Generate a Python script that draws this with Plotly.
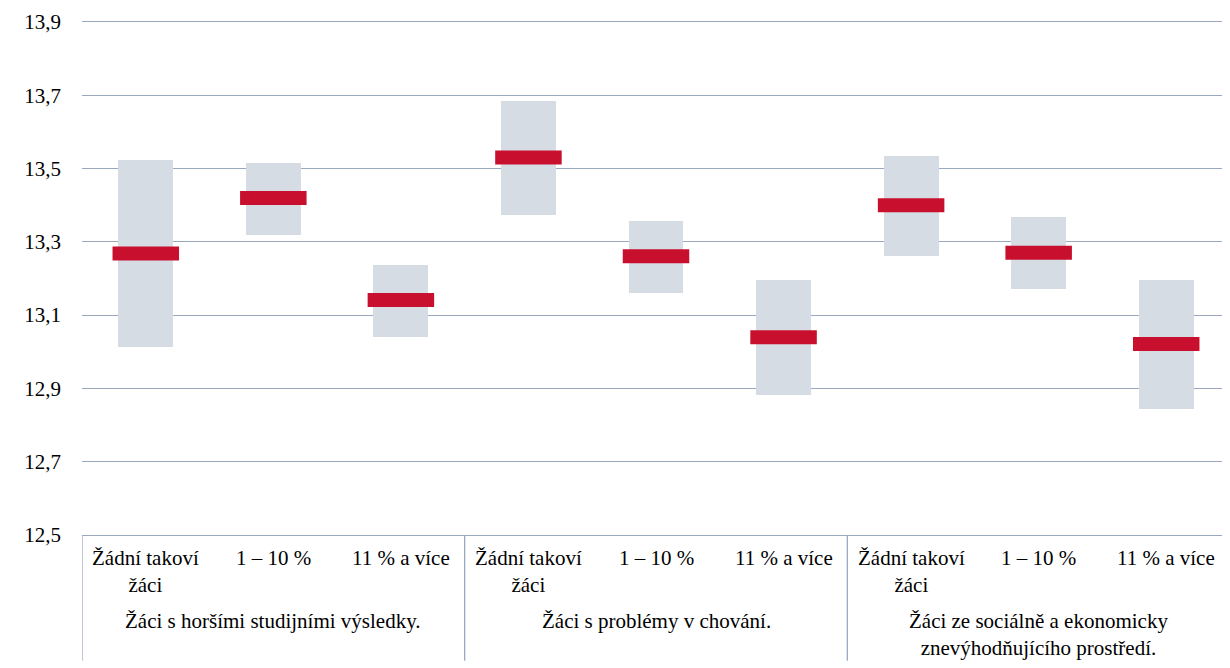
import plotly.graph_objects as go

categories = ["Žádní takoví<br>žáci", "1 – 10 %", "11 % a více"] * 3
groups = ["Žáci s horšími studijními výsledky.",
          "Žáci s problémy v chování.",
          "Žáci ze sociálně a ekonomicky<br>znevýhodňujícího prostředí."]
low = [13.013, 13.32, 13.04, 13.373, 13.16, 12.882, 13.261, 13.17, 12.844]
high = [13.523, 13.515, 13.237, 13.685, 13.357, 13.196, 13.534, 13.368, 13.196]
mean = [13.268, 13.42, 13.141, 13.53, 13.261, 13.04, 13.40, 13.27, 13.021]
yticks = [12.5, 12.7, 12.9, 13.1, 13.3, 13.5, 13.7, 13.9]

x = list(range(len(categories)))
grid = "#9aa8bf"
font = "Liberation Serif, Times New Roman, serif"
fs = 21

fig = go.Figure()
fig.add_trace(go.Bar(x=x, y=[h - l for h, l in zip(high, low)], base=low,
                     width=0.43, marker=dict(color="#d6dce4", line=dict(width=0)),
                     showlegend=False, hoverinfo="skip"))
fig.add_trace(go.Scatter(x=x, y=mean, mode="markers",
                         marker=dict(symbol="line-ew", size=47.5,
                                     line=dict(width=14, color="#c8102e")),
                         showlegend=False))

for i, c in enumerate(categories):
    fig.add_annotation(x=i, y=0, xref="x", yref="paper", yshift=-9,
                       text=c, showarrow=False, yanchor="top", align="center",
                       font=dict(family=font, size=fs, color="#000"))
for g, name in enumerate(groups):
    fig.add_annotation(x=3 * g + 1, y=0, xref="x", yref="paper", yshift=-72,
                       text=name, showarrow=False, yanchor="top", align="center",
                       font=dict(family=font, size=fs, color="#000"))
for xv in [-0.5, 2.5, 5.5, 8.5]:
    fig.add_shape(type="line", xref="x", yref="paper", x0=xv, x1=xv, y0=0, y1=-0.245,
                  line=dict(color=grid, width=1.3))

fig.update_layout(
    width=1222, height=660,
    margin=dict(l=74, r=0, t=14, b=133),
    plot_bgcolor="white", paper_bgcolor="white",
    separators=", ",
    bargap=0,
    xaxis=dict(range=[-0.5, 8.5], showticklabels=False, showgrid=False,
               zeroline=False, showline=True, mirror=True, linecolor=grid,
               linewidth=1.3, fixedrange=True),
    yaxis=dict(range=[12.5, 13.9], tickvals=yticks, tickformat=".1f",
               showgrid=True, gridcolor=grid, gridwidth=1.3, zeroline=False,
               showline=False, ticklabelstandoff=20,
               tickfont=dict(family=font, size=fs, color="#000")),
    font=dict(family=font, size=fs, color="#000"),
)

fig.write_html("out.html")
